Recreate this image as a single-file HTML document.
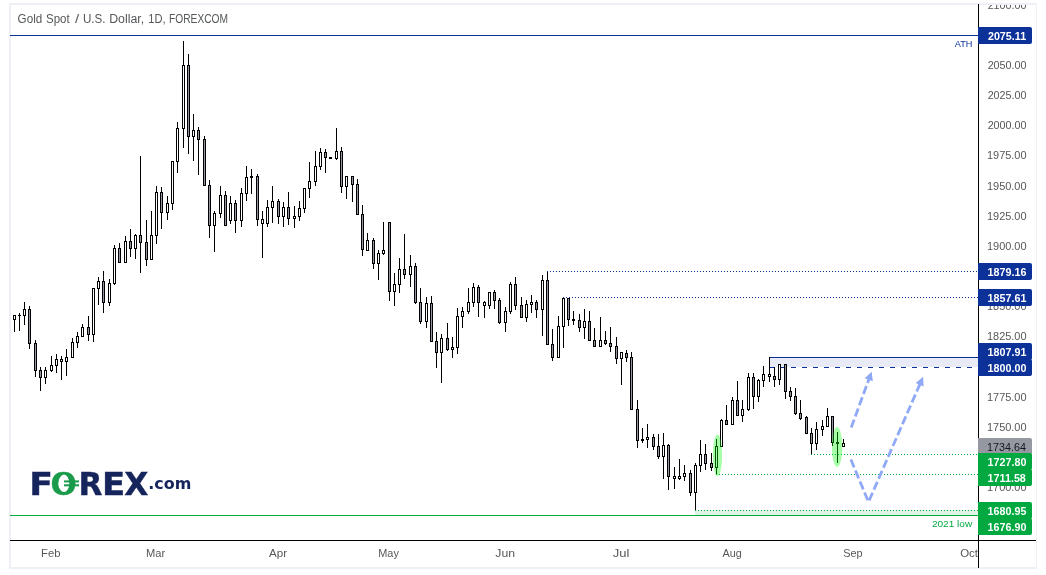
<!DOCTYPE html><html><head><meta charset="utf-8"><title>Gold Spot / U.S. Dollar</title>
<style>html,body{margin:0;padding:0;background:#fff;}body{width:1046px;height:575px;overflow:hidden;}svg{display:block;}text{font-family:"Liberation Sans",sans-serif;}</style></head><body>
<svg width="1046" height="575" viewBox="0 0 1046 575">
<rect width="1046" height="575" fill="#fff"/>
<rect x="10" y="4" width="1026" height="564" fill="#fff" stroke="#eef0f5" stroke-width="2"/>
<g shape-rendering="crispEdges">
<rect x="10" y="35" width="968" height="1" fill="#0c3199"/>
<line x1="547" y1="271.5" x2="978" y2="271.5" stroke="#0c3199" stroke-width="1" stroke-dasharray="1 2" stroke-dashoffset="0"/>
<line x1="563" y1="297.5" x2="978" y2="297.5" stroke="#0c3199" stroke-width="1" stroke-dasharray="1 2" stroke-dashoffset="0"/>
<rect x="770" y="358" width="208" height="9" fill="#e8eaf6"/>
<rect x="769" y="357" width="209" height="1" fill="#0c3199"/>
<rect x="769" y="357" width="1" height="11" fill="#0c3199"/>
<line x1="769" y1="367.5" x2="978" y2="367.5" stroke="#0c3199" stroke-width="1" stroke-dasharray="5 6" stroke-dashoffset="-0"/>
<rect x="695" y="510" width="283" height="5" fill="#dff3e6"/>
<rect x="10" y="515" width="968" height="1" fill="#02a940"/>
<line x1="811" y1="454.5" x2="978" y2="454.5" stroke="#02a940" stroke-width="1" stroke-dasharray="1 2" stroke-dashoffset="0"/>
<line x1="716" y1="474.5" x2="978" y2="474.5" stroke="#02a940" stroke-width="1" stroke-dasharray="1 2" stroke-dashoffset="0"/>
<line x1="695" y1="510.5" x2="978" y2="510.5" stroke="#02a940" stroke-width="1" stroke-dasharray="1 2" stroke-dashoffset="0"/>
</g>
<g shape-rendering="crispEdges">
<rect x="14" y="315" width="1" height="17" fill="#000"/>
<rect x="13" y="315" width="3" height="5" fill="#000"/>
<rect x="14" y="316" width="1" height="3" fill="#fff"/>
<rect x="19" y="313" width="1" height="18" fill="#000"/>
<rect x="18" y="315" width="3" height="1" fill="#000"/>
<rect x="24" y="302" width="1" height="23" fill="#000"/>
<rect x="23" y="309" width="3" height="7" fill="#000"/>
<rect x="24" y="310" width="1" height="5" fill="#fff"/>
<rect x="29" y="306" width="1" height="43" fill="#000"/>
<rect x="28" y="309" width="3" height="35" fill="#000"/>
<rect x="29" y="310" width="1" height="33" fill="#9497a1"/>
<rect x="35" y="340" width="1" height="37" fill="#000"/>
<rect x="34" y="343" width="3" height="28" fill="#000"/>
<rect x="35" y="344" width="1" height="26" fill="#9497a1"/>
<rect x="40" y="367" width="1" height="24" fill="#000"/>
<rect x="39" y="370" width="3" height="8" fill="#000"/>
<rect x="40" y="371" width="1" height="6" fill="#9497a1"/>
<rect x="45" y="367" width="1" height="17" fill="#000"/>
<rect x="44" y="370" width="3" height="8" fill="#000"/>
<rect x="45" y="371" width="1" height="6" fill="#fff"/>
<rect x="51" y="356" width="1" height="16" fill="#000"/>
<rect x="50" y="365" width="3" height="6" fill="#000"/>
<rect x="51" y="366" width="1" height="4" fill="#fff"/>
<rect x="56" y="354" width="1" height="19" fill="#000"/>
<rect x="55" y="359" width="3" height="7" fill="#000"/>
<rect x="56" y="360" width="1" height="5" fill="#fff"/>
<rect x="61" y="356" width="1" height="24" fill="#000"/>
<rect x="60" y="359" width="3" height="3" fill="#000"/>
<rect x="61" y="360" width="1" height="1" fill="#fff"/>
<rect x="66" y="349" width="1" height="27" fill="#000"/>
<rect x="65" y="357" width="3" height="5" fill="#000"/>
<rect x="66" y="358" width="1" height="3" fill="#fff"/>
<rect x="72" y="338" width="1" height="20" fill="#000"/>
<rect x="71" y="342" width="3" height="16" fill="#000"/>
<rect x="72" y="343" width="1" height="14" fill="#fff"/>
<rect x="77" y="332" width="1" height="16" fill="#000"/>
<rect x="76" y="336" width="3" height="7" fill="#000"/>
<rect x="77" y="337" width="1" height="5" fill="#fff"/>
<rect x="82" y="324" width="1" height="13" fill="#000"/>
<rect x="81" y="327" width="3" height="10" fill="#000"/>
<rect x="82" y="328" width="1" height="8" fill="#fff"/>
<rect x="88" y="316" width="1" height="25" fill="#000"/>
<rect x="87" y="327" width="3" height="8" fill="#000"/>
<rect x="88" y="328" width="1" height="6" fill="#9497a1"/>
<rect x="93" y="288" width="1" height="54" fill="#000"/>
<rect x="92" y="288" width="3" height="47" fill="#000"/>
<rect x="93" y="289" width="1" height="45" fill="#fff"/>
<rect x="98" y="277" width="1" height="28" fill="#000"/>
<rect x="97" y="281" width="3" height="8" fill="#000"/>
<rect x="98" y="282" width="1" height="6" fill="#fff"/>
<rect x="103" y="271" width="1" height="42" fill="#000"/>
<rect x="102" y="281" width="3" height="22" fill="#000"/>
<rect x="103" y="282" width="1" height="20" fill="#9497a1"/>
<rect x="109" y="279" width="1" height="27" fill="#000"/>
<rect x="108" y="283" width="3" height="20" fill="#000"/>
<rect x="109" y="284" width="1" height="18" fill="#fff"/>
<rect x="114" y="245" width="1" height="40" fill="#000"/>
<rect x="113" y="248" width="3" height="36" fill="#000"/>
<rect x="114" y="249" width="1" height="34" fill="#fff"/>
<rect x="119" y="243" width="1" height="20" fill="#000"/>
<rect x="118" y="248" width="3" height="15" fill="#000"/>
<rect x="119" y="249" width="1" height="13" fill="#9497a1"/>
<rect x="125" y="236" width="1" height="27" fill="#000"/>
<rect x="124" y="241" width="3" height="22" fill="#000"/>
<rect x="125" y="242" width="1" height="20" fill="#fff"/>
<rect x="130" y="229" width="1" height="28" fill="#000"/>
<rect x="129" y="241" width="3" height="8" fill="#000"/>
<rect x="130" y="242" width="1" height="6" fill="#9497a1"/>
<rect x="135" y="234" width="1" height="25" fill="#000"/>
<rect x="134" y="235" width="3" height="14" fill="#000"/>
<rect x="135" y="236" width="1" height="12" fill="#fff"/>
<rect x="140" y="156" width="1" height="117" fill="#000"/>
<rect x="139" y="235" width="3" height="8" fill="#000"/>
<rect x="140" y="236" width="1" height="6" fill="#9497a1"/>
<rect x="146" y="220" width="1" height="46" fill="#000"/>
<rect x="145" y="242" width="3" height="18" fill="#000"/>
<rect x="146" y="243" width="1" height="16" fill="#9497a1"/>
<rect x="151" y="211" width="1" height="49" fill="#000"/>
<rect x="150" y="235" width="3" height="25" fill="#000"/>
<rect x="151" y="236" width="1" height="23" fill="#fff"/>
<rect x="156" y="186" width="1" height="58" fill="#000"/>
<rect x="155" y="192" width="3" height="44" fill="#000"/>
<rect x="156" y="193" width="1" height="42" fill="#fff"/>
<rect x="161" y="187" width="1" height="42" fill="#000"/>
<rect x="160" y="192" width="3" height="21" fill="#000"/>
<rect x="161" y="193" width="1" height="19" fill="#9497a1"/>
<rect x="167" y="196" width="1" height="24" fill="#000"/>
<rect x="166" y="203" width="3" height="10" fill="#000"/>
<rect x="167" y="204" width="1" height="8" fill="#fff"/>
<rect x="172" y="161" width="1" height="49" fill="#000"/>
<rect x="171" y="161" width="3" height="43" fill="#000"/>
<rect x="172" y="162" width="1" height="41" fill="#fff"/>
<rect x="177" y="122" width="1" height="51" fill="#000"/>
<rect x="176" y="128" width="3" height="34" fill="#000"/>
<rect x="177" y="129" width="1" height="32" fill="#fff"/>
<rect x="183" y="41" width="1" height="107" fill="#000"/>
<rect x="182" y="65" width="3" height="64" fill="#000"/>
<rect x="183" y="66" width="1" height="62" fill="#fff"/>
<rect x="188" y="54" width="1" height="100" fill="#000"/>
<rect x="187" y="65" width="3" height="72" fill="#000"/>
<rect x="188" y="66" width="1" height="70" fill="#9497a1"/>
<rect x="193" y="114" width="1" height="47" fill="#000"/>
<rect x="192" y="130" width="3" height="7" fill="#000"/>
<rect x="193" y="131" width="1" height="5" fill="#fff"/>
<rect x="198" y="127" width="1" height="48" fill="#000"/>
<rect x="197" y="130" width="3" height="10" fill="#000"/>
<rect x="198" y="131" width="1" height="8" fill="#9497a1"/>
<rect x="204" y="136" width="1" height="50" fill="#000"/>
<rect x="203" y="139" width="3" height="47" fill="#000"/>
<rect x="204" y="140" width="1" height="45" fill="#9497a1"/>
<rect x="209" y="180" width="1" height="58" fill="#000"/>
<rect x="208" y="185" width="3" height="41" fill="#000"/>
<rect x="209" y="186" width="1" height="39" fill="#9497a1"/>
<rect x="214" y="211" width="1" height="41" fill="#000"/>
<rect x="213" y="213" width="3" height="13" fill="#000"/>
<rect x="214" y="214" width="1" height="11" fill="#fff"/>
<rect x="220" y="186" width="1" height="32" fill="#000"/>
<rect x="219" y="195" width="3" height="19" fill="#000"/>
<rect x="220" y="196" width="1" height="17" fill="#fff"/>
<rect x="225" y="191" width="1" height="35" fill="#000"/>
<rect x="224" y="195" width="3" height="31" fill="#000"/>
<rect x="225" y="196" width="1" height="29" fill="#9497a1"/>
<rect x="230" y="196" width="1" height="28" fill="#000"/>
<rect x="229" y="203" width="3" height="18" fill="#000"/>
<rect x="230" y="204" width="1" height="16" fill="#fff"/>
<rect x="235" y="200" width="1" height="33" fill="#000"/>
<rect x="234" y="203" width="3" height="18" fill="#000"/>
<rect x="235" y="204" width="1" height="16" fill="#9497a1"/>
<rect x="241" y="188" width="1" height="39" fill="#000"/>
<rect x="240" y="193" width="3" height="28" fill="#000"/>
<rect x="241" y="194" width="1" height="26" fill="#fff"/>
<rect x="246" y="166" width="1" height="35" fill="#000"/>
<rect x="245" y="177" width="3" height="17" fill="#000"/>
<rect x="246" y="178" width="1" height="15" fill="#fff"/>
<rect x="251" y="169" width="1" height="25" fill="#000"/>
<rect x="250" y="176" width="3" height="2" fill="#000"/>
<rect x="257" y="174" width="1" height="52" fill="#000"/>
<rect x="256" y="176" width="3" height="44" fill="#000"/>
<rect x="257" y="177" width="1" height="42" fill="#9497a1"/>
<rect x="262" y="211" width="1" height="47" fill="#000"/>
<rect x="261" y="219" width="3" height="5" fill="#000"/>
<rect x="262" y="220" width="1" height="3" fill="#fff"/>
<rect x="267" y="200" width="1" height="27" fill="#000"/>
<rect x="266" y="207" width="3" height="17" fill="#000"/>
<rect x="267" y="208" width="1" height="15" fill="#fff"/>
<rect x="272" y="186" width="1" height="37" fill="#000"/>
<rect x="271" y="201" width="3" height="7" fill="#000"/>
<rect x="272" y="202" width="1" height="5" fill="#fff"/>
<rect x="278" y="199" width="1" height="25" fill="#000"/>
<rect x="277" y="201" width="3" height="16" fill="#000"/>
<rect x="278" y="202" width="1" height="14" fill="#9497a1"/>
<rect x="283" y="202" width="1" height="25" fill="#000"/>
<rect x="282" y="207" width="3" height="10" fill="#000"/>
<rect x="283" y="208" width="1" height="8" fill="#fff"/>
<rect x="288" y="192" width="1" height="33" fill="#000"/>
<rect x="287" y="207" width="3" height="12" fill="#000"/>
<rect x="288" y="208" width="1" height="10" fill="#9497a1"/>
<rect x="294" y="206" width="1" height="22" fill="#000"/>
<rect x="293" y="216" width="3" height="3" fill="#000"/>
<rect x="294" y="217" width="1" height="1" fill="#fff"/>
<rect x="299" y="201" width="1" height="20" fill="#000"/>
<rect x="298" y="208" width="3" height="9" fill="#000"/>
<rect x="299" y="209" width="1" height="7" fill="#fff"/>
<rect x="304" y="188" width="1" height="25" fill="#000"/>
<rect x="303" y="188" width="3" height="21" fill="#000"/>
<rect x="304" y="189" width="1" height="19" fill="#fff"/>
<rect x="309" y="162" width="1" height="36" fill="#000"/>
<rect x="308" y="181" width="3" height="8" fill="#000"/>
<rect x="309" y="182" width="1" height="6" fill="#fff"/>
<rect x="315" y="151" width="1" height="35" fill="#000"/>
<rect x="314" y="166" width="3" height="16" fill="#000"/>
<rect x="315" y="167" width="1" height="14" fill="#fff"/>
<rect x="320" y="148" width="1" height="22" fill="#000"/>
<rect x="319" y="152" width="3" height="15" fill="#000"/>
<rect x="320" y="153" width="1" height="13" fill="#fff"/>
<rect x="325" y="149" width="1" height="24" fill="#000"/>
<rect x="324" y="152" width="3" height="6" fill="#000"/>
<rect x="325" y="153" width="1" height="4" fill="#9497a1"/>
<rect x="329" y="157" width="3" height="2" fill="#000"/>
<rect x="336" y="128" width="1" height="32" fill="#000"/>
<rect x="335" y="151" width="3" height="8" fill="#000"/>
<rect x="336" y="152" width="1" height="6" fill="#fff"/>
<rect x="341" y="147" width="1" height="46" fill="#000"/>
<rect x="340" y="151" width="3" height="36" fill="#000"/>
<rect x="341" y="152" width="1" height="34" fill="#9497a1"/>
<rect x="346" y="176" width="1" height="23" fill="#000"/>
<rect x="345" y="176" width="3" height="11" fill="#000"/>
<rect x="346" y="177" width="1" height="9" fill="#fff"/>
<rect x="352" y="176" width="1" height="26" fill="#000"/>
<rect x="351" y="176" width="3" height="9" fill="#000"/>
<rect x="352" y="177" width="1" height="7" fill="#9497a1"/>
<rect x="357" y="179" width="1" height="36" fill="#000"/>
<rect x="356" y="184" width="3" height="31" fill="#000"/>
<rect x="357" y="185" width="1" height="29" fill="#9497a1"/>
<rect x="362" y="205" width="1" height="51" fill="#000"/>
<rect x="361" y="214" width="3" height="36" fill="#000"/>
<rect x="362" y="215" width="1" height="34" fill="#9497a1"/>
<rect x="367" y="233" width="1" height="18" fill="#000"/>
<rect x="366" y="240" width="3" height="11" fill="#000"/>
<rect x="367" y="241" width="1" height="9" fill="#fff"/>
<rect x="373" y="238" width="1" height="31" fill="#000"/>
<rect x="372" y="240" width="3" height="24" fill="#000"/>
<rect x="373" y="241" width="1" height="22" fill="#9497a1"/>
<rect x="378" y="250" width="1" height="30" fill="#000"/>
<rect x="377" y="253" width="3" height="11" fill="#000"/>
<rect x="378" y="254" width="1" height="9" fill="#fff"/>
<rect x="383" y="222" width="1" height="33" fill="#000"/>
<rect x="382" y="250" width="3" height="4" fill="#000"/>
<rect x="383" y="251" width="1" height="2" fill="#fff"/>
<rect x="389" y="222" width="1" height="79" fill="#000"/>
<rect x="388" y="222" width="3" height="70" fill="#000"/>
<rect x="389" y="223" width="1" height="68" fill="#9497a1"/>
<rect x="394" y="273" width="1" height="33" fill="#000"/>
<rect x="393" y="284" width="3" height="8" fill="#000"/>
<rect x="394" y="285" width="1" height="6" fill="#fff"/>
<rect x="399" y="258" width="1" height="35" fill="#000"/>
<rect x="398" y="269" width="3" height="16" fill="#000"/>
<rect x="399" y="270" width="1" height="14" fill="#fff"/>
<rect x="404" y="234" width="1" height="45" fill="#000"/>
<rect x="403" y="269" width="3" height="6" fill="#000"/>
<rect x="404" y="270" width="1" height="4" fill="#9497a1"/>
<rect x="410" y="255" width="1" height="32" fill="#000"/>
<rect x="409" y="266" width="3" height="9" fill="#000"/>
<rect x="410" y="267" width="1" height="7" fill="#fff"/>
<rect x="415" y="263" width="1" height="41" fill="#000"/>
<rect x="414" y="266" width="3" height="37" fill="#000"/>
<rect x="415" y="267" width="1" height="35" fill="#9497a1"/>
<rect x="420" y="288" width="1" height="36" fill="#000"/>
<rect x="419" y="302" width="3" height="20" fill="#000"/>
<rect x="420" y="303" width="1" height="18" fill="#9497a1"/>
<rect x="426" y="297" width="1" height="31" fill="#000"/>
<rect x="425" y="303" width="3" height="19" fill="#000"/>
<rect x="426" y="304" width="1" height="17" fill="#fff"/>
<rect x="431" y="296" width="1" height="46" fill="#000"/>
<rect x="430" y="303" width="3" height="39" fill="#000"/>
<rect x="431" y="304" width="1" height="37" fill="#9497a1"/>
<rect x="436" y="332" width="1" height="36" fill="#000"/>
<rect x="435" y="341" width="3" height="12" fill="#000"/>
<rect x="436" y="342" width="1" height="10" fill="#9497a1"/>
<rect x="441" y="334" width="1" height="49" fill="#000"/>
<rect x="440" y="338" width="3" height="15" fill="#000"/>
<rect x="441" y="339" width="1" height="13" fill="#fff"/>
<rect x="447" y="323" width="1" height="28" fill="#000"/>
<rect x="446" y="338" width="3" height="12" fill="#000"/>
<rect x="447" y="339" width="1" height="10" fill="#9497a1"/>
<rect x="452" y="337" width="1" height="21" fill="#000"/>
<rect x="451" y="347" width="3" height="3" fill="#000"/>
<rect x="452" y="348" width="1" height="1" fill="#fff"/>
<rect x="457" y="308" width="1" height="46" fill="#000"/>
<rect x="456" y="316" width="3" height="32" fill="#000"/>
<rect x="457" y="317" width="1" height="30" fill="#fff"/>
<rect x="462" y="307" width="1" height="21" fill="#000"/>
<rect x="461" y="311" width="3" height="6" fill="#000"/>
<rect x="462" y="312" width="1" height="4" fill="#fff"/>
<rect x="468" y="288" width="1" height="26" fill="#000"/>
<rect x="467" y="302" width="3" height="10" fill="#000"/>
<rect x="468" y="303" width="1" height="8" fill="#fff"/>
<rect x="473" y="283" width="1" height="24" fill="#000"/>
<rect x="472" y="287" width="3" height="16" fill="#000"/>
<rect x="473" y="288" width="1" height="14" fill="#fff"/>
<rect x="478" y="285" width="1" height="32" fill="#000"/>
<rect x="477" y="287" width="3" height="16" fill="#000"/>
<rect x="478" y="288" width="1" height="14" fill="#9497a1"/>
<rect x="484" y="301" width="1" height="17" fill="#000"/>
<rect x="483" y="302" width="3" height="4" fill="#000"/>
<rect x="484" y="303" width="1" height="2" fill="#fff"/>
<rect x="489" y="292" width="1" height="17" fill="#000"/>
<rect x="488" y="292" width="3" height="14" fill="#000"/>
<rect x="489" y="293" width="1" height="12" fill="#fff"/>
<rect x="494" y="290" width="1" height="19" fill="#000"/>
<rect x="493" y="292" width="3" height="9" fill="#000"/>
<rect x="494" y="293" width="1" height="7" fill="#9497a1"/>
<rect x="499" y="298" width="1" height="26" fill="#000"/>
<rect x="498" y="300" width="3" height="23" fill="#000"/>
<rect x="499" y="301" width="1" height="21" fill="#9497a1"/>
<rect x="505" y="307" width="1" height="25" fill="#000"/>
<rect x="504" y="311" width="3" height="12" fill="#000"/>
<rect x="505" y="312" width="1" height="10" fill="#fff"/>
<rect x="510" y="282" width="1" height="32" fill="#000"/>
<rect x="509" y="284" width="3" height="28" fill="#000"/>
<rect x="510" y="285" width="1" height="26" fill="#fff"/>
<rect x="515" y="277" width="1" height="33" fill="#000"/>
<rect x="514" y="284" width="3" height="22" fill="#000"/>
<rect x="515" y="285" width="1" height="20" fill="#9497a1"/>
<rect x="521" y="297" width="1" height="21" fill="#000"/>
<rect x="520" y="305" width="3" height="13" fill="#000"/>
<rect x="521" y="306" width="1" height="11" fill="#9497a1"/>
<rect x="526" y="300" width="1" height="22" fill="#000"/>
<rect x="525" y="304" width="3" height="14" fill="#000"/>
<rect x="526" y="305" width="1" height="12" fill="#fff"/>
<rect x="531" y="295" width="1" height="18" fill="#000"/>
<rect x="530" y="302" width="3" height="3" fill="#000"/>
<rect x="531" y="303" width="1" height="1" fill="#fff"/>
<rect x="536" y="300" width="1" height="18" fill="#000"/>
<rect x="535" y="302" width="3" height="8" fill="#000"/>
<rect x="536" y="303" width="1" height="6" fill="#9497a1"/>
<rect x="542" y="275" width="1" height="61" fill="#000"/>
<rect x="541" y="280" width="3" height="30" fill="#000"/>
<rect x="542" y="281" width="1" height="28" fill="#fff"/>
<rect x="547" y="272" width="1" height="73" fill="#000"/>
<rect x="546" y="280" width="3" height="65" fill="#000"/>
<rect x="547" y="281" width="1" height="63" fill="#9497a1"/>
<rect x="552" y="329" width="1" height="32" fill="#000"/>
<rect x="551" y="344" width="3" height="14" fill="#000"/>
<rect x="552" y="345" width="1" height="12" fill="#9497a1"/>
<rect x="558" y="316" width="1" height="42" fill="#000"/>
<rect x="557" y="326" width="3" height="32" fill="#000"/>
<rect x="558" y="327" width="1" height="30" fill="#fff"/>
<rect x="563" y="298" width="1" height="50" fill="#000"/>
<rect x="562" y="298" width="3" height="29" fill="#000"/>
<rect x="563" y="299" width="1" height="27" fill="#fff"/>
<rect x="568" y="298" width="1" height="28" fill="#000"/>
<rect x="567" y="298" width="3" height="22" fill="#000"/>
<rect x="568" y="299" width="1" height="20" fill="#9497a1"/>
<rect x="573" y="311" width="1" height="14" fill="#000"/>
<rect x="572" y="319" width="3" height="2" fill="#000"/>
<rect x="579" y="314" width="1" height="18" fill="#000"/>
<rect x="578" y="320" width="3" height="8" fill="#000"/>
<rect x="579" y="321" width="1" height="6" fill="#9497a1"/>
<rect x="584" y="309" width="1" height="30" fill="#000"/>
<rect x="583" y="321" width="3" height="7" fill="#000"/>
<rect x="584" y="322" width="1" height="5" fill="#fff"/>
<rect x="589" y="311" width="1" height="30" fill="#000"/>
<rect x="588" y="321" width="3" height="20" fill="#000"/>
<rect x="589" y="322" width="1" height="18" fill="#9497a1"/>
<rect x="594" y="328" width="1" height="19" fill="#000"/>
<rect x="593" y="340" width="3" height="7" fill="#000"/>
<rect x="594" y="341" width="1" height="5" fill="#9497a1"/>
<rect x="600" y="317" width="1" height="30" fill="#000"/>
<rect x="599" y="340" width="3" height="7" fill="#000"/>
<rect x="600" y="341" width="1" height="5" fill="#fff"/>
<rect x="605" y="331" width="1" height="14" fill="#000"/>
<rect x="604" y="340" width="3" height="4" fill="#000"/>
<rect x="605" y="341" width="1" height="2" fill="#9497a1"/>
<rect x="610" y="327" width="1" height="25" fill="#000"/>
<rect x="609" y="343" width="3" height="4" fill="#000"/>
<rect x="610" y="344" width="1" height="2" fill="#9497a1"/>
<rect x="616" y="337" width="1" height="27" fill="#000"/>
<rect x="615" y="346" width="3" height="13" fill="#000"/>
<rect x="616" y="347" width="1" height="11" fill="#9497a1"/>
<rect x="621" y="352" width="1" height="33" fill="#000"/>
<rect x="620" y="352" width="3" height="7" fill="#000"/>
<rect x="621" y="353" width="1" height="5" fill="#fff"/>
<rect x="626" y="350" width="1" height="12" fill="#000"/>
<rect x="625" y="353" width="3" height="5" fill="#000"/>
<rect x="626" y="354" width="1" height="3" fill="#9497a1"/>
<rect x="631" y="352" width="1" height="58" fill="#000"/>
<rect x="630" y="357" width="3" height="53" fill="#000"/>
<rect x="631" y="358" width="1" height="51" fill="#9497a1"/>
<rect x="637" y="400" width="1" height="48" fill="#000"/>
<rect x="636" y="409" width="3" height="32" fill="#000"/>
<rect x="637" y="410" width="1" height="30" fill="#9497a1"/>
<rect x="642" y="428" width="1" height="15" fill="#000"/>
<rect x="641" y="439" width="3" height="2" fill="#000"/>
<rect x="647" y="424" width="1" height="24" fill="#000"/>
<rect x="646" y="437" width="3" height="3" fill="#000"/>
<rect x="647" y="438" width="1" height="1" fill="#fff"/>
<rect x="653" y="434" width="1" height="16" fill="#000"/>
<rect x="652" y="437" width="3" height="10" fill="#000"/>
<rect x="653" y="438" width="1" height="8" fill="#9497a1"/>
<rect x="658" y="434" width="1" height="25" fill="#000"/>
<rect x="657" y="446" width="3" height="11" fill="#000"/>
<rect x="658" y="447" width="1" height="9" fill="#9497a1"/>
<rect x="663" y="433" width="1" height="46" fill="#000"/>
<rect x="662" y="445" width="3" height="12" fill="#000"/>
<rect x="663" y="446" width="1" height="10" fill="#fff"/>
<rect x="668" y="444" width="1" height="46" fill="#000"/>
<rect x="667" y="445" width="3" height="32" fill="#000"/>
<rect x="668" y="446" width="1" height="30" fill="#9497a1"/>
<rect x="674" y="467" width="1" height="22" fill="#000"/>
<rect x="673" y="476" width="3" height="3" fill="#000"/>
<rect x="674" y="477" width="1" height="1" fill="#fff"/>
<rect x="679" y="459" width="1" height="21" fill="#000"/>
<rect x="678" y="476" width="3" height="3" fill="#000"/>
<rect x="679" y="477" width="1" height="1" fill="#fff"/>
<rect x="684" y="465" width="1" height="16" fill="#000"/>
<rect x="683" y="473" width="3" height="4" fill="#000"/>
<rect x="684" y="474" width="1" height="2" fill="#fff"/>
<rect x="690" y="470" width="1" height="26" fill="#000"/>
<rect x="689" y="473" width="3" height="20" fill="#000"/>
<rect x="690" y="474" width="1" height="18" fill="#9497a1"/>
<rect x="695" y="463" width="1" height="47" fill="#000"/>
<rect x="694" y="465" width="3" height="28" fill="#000"/>
<rect x="695" y="466" width="1" height="26" fill="#fff"/>
<rect x="700" y="440" width="1" height="32" fill="#000"/>
<rect x="699" y="454" width="3" height="12" fill="#000"/>
<rect x="700" y="455" width="1" height="10" fill="#fff"/>
<rect x="705" y="444" width="1" height="26" fill="#000"/>
<rect x="704" y="454" width="3" height="10" fill="#000"/>
<rect x="705" y="455" width="1" height="8" fill="#9497a1"/>
<rect x="711" y="453" width="1" height="18" fill="#000"/>
<rect x="710" y="463" width="3" height="5" fill="#000"/>
<rect x="711" y="464" width="1" height="3" fill="#9497a1"/>
<rect x="716" y="439" width="1" height="35" fill="#000"/>
<rect x="715" y="446" width="3" height="22" fill="#000"/>
<rect x="716" y="447" width="1" height="20" fill="#fff"/>
<rect x="721" y="419" width="1" height="28" fill="#000"/>
<rect x="720" y="420" width="3" height="27" fill="#000"/>
<rect x="721" y="421" width="1" height="25" fill="#fff"/>
<rect x="726" y="405" width="1" height="20" fill="#000"/>
<rect x="725" y="420" width="3" height="5" fill="#000"/>
<rect x="726" y="421" width="1" height="3" fill="#9497a1"/>
<rect x="732" y="397" width="1" height="28" fill="#000"/>
<rect x="731" y="400" width="3" height="25" fill="#000"/>
<rect x="732" y="401" width="1" height="23" fill="#fff"/>
<rect x="737" y="381" width="1" height="35" fill="#000"/>
<rect x="736" y="400" width="3" height="16" fill="#000"/>
<rect x="737" y="401" width="1" height="14" fill="#9497a1"/>
<rect x="742" y="400" width="1" height="22" fill="#000"/>
<rect x="741" y="409" width="3" height="7" fill="#000"/>
<rect x="742" y="410" width="1" height="5" fill="#fff"/>
<rect x="748" y="373" width="1" height="38" fill="#000"/>
<rect x="747" y="377" width="3" height="33" fill="#000"/>
<rect x="748" y="378" width="1" height="31" fill="#fff"/>
<rect x="753" y="373" width="1" height="36" fill="#000"/>
<rect x="752" y="377" width="3" height="20" fill="#000"/>
<rect x="753" y="378" width="1" height="18" fill="#9497a1"/>
<rect x="758" y="379" width="1" height="23" fill="#000"/>
<rect x="757" y="380" width="3" height="17" fill="#000"/>
<rect x="758" y="381" width="1" height="15" fill="#fff"/>
<rect x="763" y="366" width="1" height="21" fill="#000"/>
<rect x="762" y="374" width="3" height="7" fill="#000"/>
<rect x="763" y="375" width="1" height="5" fill="#fff"/>
<rect x="769" y="357" width="1" height="25" fill="#000"/>
<rect x="768" y="374" width="3" height="3" fill="#000"/>
<rect x="769" y="375" width="1" height="1" fill="#fff"/>
<rect x="774" y="367" width="1" height="20" fill="#000"/>
<rect x="773" y="376" width="3" height="4" fill="#000"/>
<rect x="774" y="377" width="1" height="2" fill="#9497a1"/>
<rect x="779" y="364" width="1" height="21" fill="#000"/>
<rect x="778" y="364" width="3" height="16" fill="#000"/>
<rect x="779" y="365" width="1" height="14" fill="#fff"/>
<rect x="785" y="364" width="1" height="35" fill="#000"/>
<rect x="784" y="364" width="3" height="28" fill="#000"/>
<rect x="785" y="365" width="1" height="26" fill="#9497a1"/>
<rect x="790" y="387" width="1" height="14" fill="#000"/>
<rect x="789" y="391" width="3" height="6" fill="#000"/>
<rect x="790" y="392" width="1" height="4" fill="#9497a1"/>
<rect x="795" y="388" width="1" height="27" fill="#000"/>
<rect x="794" y="396" width="3" height="18" fill="#000"/>
<rect x="795" y="397" width="1" height="16" fill="#9497a1"/>
<rect x="800" y="400" width="1" height="20" fill="#000"/>
<rect x="799" y="413" width="3" height="6" fill="#000"/>
<rect x="800" y="414" width="1" height="4" fill="#9497a1"/>
<rect x="806" y="416" width="1" height="18" fill="#000"/>
<rect x="805" y="417" width="3" height="17" fill="#000"/>
<rect x="806" y="418" width="1" height="15" fill="#9497a1"/>
<rect x="811" y="428" width="1" height="26" fill="#000"/>
<rect x="810" y="433" width="3" height="11" fill="#000"/>
<rect x="811" y="434" width="1" height="9" fill="#9497a1"/>
<rect x="816" y="422" width="1" height="28" fill="#000"/>
<rect x="815" y="429" width="3" height="15" fill="#000"/>
<rect x="816" y="430" width="1" height="13" fill="#fff"/>
<rect x="822" y="420" width="1" height="16" fill="#000"/>
<rect x="821" y="426" width="3" height="4" fill="#000"/>
<rect x="822" y="427" width="1" height="2" fill="#fff"/>
<rect x="827" y="408" width="1" height="19" fill="#000"/>
<rect x="826" y="416" width="3" height="11" fill="#000"/>
<rect x="827" y="417" width="1" height="9" fill="#fff"/>
<rect x="832" y="416" width="1" height="30" fill="#000"/>
<rect x="831" y="416" width="3" height="27" fill="#000"/>
<rect x="832" y="417" width="1" height="25" fill="#9497a1"/>
<rect x="837" y="432" width="1" height="31" fill="#000"/>
<rect x="836" y="442" width="3" height="2" fill="#000"/>
<rect x="843" y="439" width="1" height="8" fill="#000"/>
<rect x="842" y="443" width="3" height="4" fill="#000"/>
<rect x="843" y="444" width="1" height="2" fill="#fff"/>
</g>
<ellipse cx="717.5" cy="455.2" rx="4.7" ry="20.8" fill="#00ff00" fill-opacity="0.35"/>
<ellipse cx="837.1" cy="447" rx="5.2" ry="19.9" fill="#00ff00" fill-opacity="0.35"/>
<path d="M851.2 427.6 L869.4 377.9" fill="none" stroke="#8fa9f7" stroke-width="2.8" stroke-dasharray="8.5 3.4" stroke-linejoin="miter"/><path d="M871.7 371.7 L872.8 381.3 L864.7 378.3 Z" fill="#8fa9f7"/>
<path d="M850.9 459.5 L868.5 502.0 L920.5 382.8" fill="none" stroke="#8fa9f7" stroke-width="2.8" stroke-dasharray="8.5 3.4" stroke-linejoin="miter"/><path d="M923.1 376.8 L923.6 386.4 L915.7 383.0 Z" fill="#8fa9f7"/>
<g shape-rendering="crispEdges">
<rect x="978" y="5" width="58" height="535" fill="#fff"/>
<rect x="978" y="541" width="58" height="26" fill="#fff"/>
</g>
<defs><clipPath id="xc"><rect x="11" y="541" width="967" height="26"/></clipPath><clipPath id="pc"><rect x="978" y="5" width="57" height="535"/></clipPath></defs>
<g clip-path="url(#xc)">
<text transform="translate(41.08 556.8) scale(1.0207 1)" font-size="11" fill="#555759">Feb</text>
<text transform="translate(146.09 556.8) scale(1.0098 1)" font-size="11" fill="#555759">Mar</text>
<text transform="translate(268.96 556.8) scale(1.0552 1)" font-size="11" fill="#555759">Apr</text>
<text transform="translate(378.25 556.8) scale(0.9937 1)" font-size="11" fill="#555759">May</text>
<text transform="translate(495.27 556.8) scale(1.1121 1)" font-size="11" fill="#555759">Jun</text>
<text transform="translate(612.84 556.8) scale(1.1826 1)" font-size="11" fill="#555759">Jul</text>
<text transform="translate(722.47 556.8) scale(0.9878 1)" font-size="11" fill="#555759">Aug</text>
<text transform="translate(843.13 556.8) scale(0.9906 1)" font-size="11" fill="#555759">Sep</text>
<text transform="translate(960.21 556.8) scale(1.0403 1)" font-size="11" fill="#555759">Oct</text>
</g>
<g clip-path="url(#pc)">
<text transform="translate(987.64 8.7) scale(0.9791 1)" font-size="11" fill="#555759">2100.00</text>
<text transform="translate(987.64 69.0) scale(0.9791 1)" font-size="11" fill="#555759">2050.00</text>
<text transform="translate(987.64 99.1) scale(0.9791 1)" font-size="11" fill="#555759">2025.00</text>
<text transform="translate(987.64 129.2) scale(0.9791 1)" font-size="11" fill="#555759">2000.00</text>
<text transform="translate(986.95 159.4) scale(0.9967 1)" font-size="11" fill="#555759">1975.00</text>
<text transform="translate(986.95 189.5) scale(0.9967 1)" font-size="11" fill="#555759">1950.00</text>
<text transform="translate(986.95 219.6) scale(0.9967 1)" font-size="11" fill="#555759">1925.00</text>
<text transform="translate(986.95 249.8) scale(0.9967 1)" font-size="11" fill="#555759">1900.00</text>
<text transform="translate(986.95 310.0) scale(0.9967 1)" font-size="11" fill="#555759">1850.00</text>
<text transform="translate(986.95 340.2) scale(0.9967 1)" font-size="11" fill="#555759">1825.00</text>
<text transform="translate(986.95 400.5) scale(0.9967 1)" font-size="11" fill="#555759">1775.00</text>
<text transform="translate(986.95 430.6) scale(0.9967 1)" font-size="11" fill="#555759">1750.00</text>
<text transform="translate(986.95 490.9) scale(0.9967 1)" font-size="11" fill="#555759">1700.00</text>
</g>
<g shape-rendering="crispEdges">
<rect x="978" y="4" width="1" height="564" fill="#000"/>
<rect x="10" y="540" width="1026" height="1" fill="#000"/>
</g>
<path d="M978 27 H1030 a2 2 0 0 1 2 2 V42 a2 2 0 0 1 -2 2 H978 Z" fill="#0c3199"/><text transform="translate(987.92 40.1) scale(0.9780 1)" font-size="11" font-weight="bold" fill="#fff">2075.11</text>
<path d="M978 263 H1030 a2 2 0 0 1 2 2 V278 a2 2 0 0 1 -2 2 H978 Z" fill="#0c3199"/><text transform="translate(987.62 276.1) scale(0.9780 1)" font-size="11" font-weight="bold" fill="#fff">1879.16</text>
<path d="M978 289 H1030 a2 2 0 0 1 2 2 V304 a2 2 0 0 1 -2 2 H978 Z" fill="#0c3199"/><text transform="translate(987.62 302.1) scale(0.9780 1)" font-size="11" font-weight="bold" fill="#fff">1857.61</text>
<path d="M978 343 H1030 a2 2 0 0 1 2 2 V358 a2 2 0 0 1 -2 2 H978 Z" fill="#0c3199"/><text transform="translate(987.62 356.1) scale(0.9780 1)" font-size="11" font-weight="bold" fill="#fff">1807.91</text>
<path d="M978 359 H1030 a2 2 0 0 1 2 2 V374 a2 2 0 0 1 -2 2 H978 Z" fill="#0c3199"/><text transform="translate(987.62 372.1) scale(0.9780 1)" font-size="11" font-weight="bold" fill="#fff">1800.00</text>
<path d="M978 438 H1030 a2 2 0 0 1 2 2 V453 a2 2 0 0 1 -2 2 H978 Z" fill="#9598a1"/><text transform="translate(987.07 451.1) scale(0.9780 1)" font-size="11" fill="#131722">1734.64</text>
<path d="M978 453 H1030 a2 2 0 0 1 2 2 V468 a2 2 0 0 1 -2 2 H978 Z" fill="#02a940"/><text transform="translate(987.62 466.1) scale(0.9780 1)" font-size="11" font-weight="bold" fill="#fff">1727.80</text>
<path d="M978 469 H1030 a2 2 0 0 1 2 2 V484 a2 2 0 0 1 -2 2 H978 Z" fill="#02a940"/><text transform="translate(987.62 482.1) scale(0.9780 1)" font-size="11" font-weight="bold" fill="#fff">1711.58</text>
<path d="M978 502 H1030 a2 2 0 0 1 2 2 V517 a2 2 0 0 1 -2 2 H978 Z" fill="#02a940"/><text transform="translate(987.62 515.1) scale(0.9780 1)" font-size="11" font-weight="bold" fill="#fff">1680.95</text>
<path d="M978 518 H1030 a2 2 0 0 1 2 2 V533 a2 2 0 0 1 -2 2 H978 Z" fill="#02a940"/><text transform="translate(987.62 531.1) scale(0.9780 1)" font-size="11" font-weight="bold" fill="#fff">1676.90</text>
<text transform="translate(954.85 47) scale(0.9643 1)" font-size="9.5" fill="#0c3199">ATH</text>
<text transform="translate(931.92 527.1) scale(1.0384 1)" font-size="9.7" fill="#02a940">2021 low</text>
<text transform="translate(17.57 22.5) scale(0.9724 1)" font-size="12" fill="#555759">Gold</text>
<text transform="translate(45.94 22.5) scale(0.9617 1)" font-size="12" fill="#555759">Spot</text>
<text transform="translate(75.01 22.5) scale(1.2421 1)" font-size="12" fill="#555759">/</text>
<text transform="translate(82.90 22.5) scale(0.9712 1)" font-size="12" fill="#555759">U.S.</text>
<text transform="translate(109.17 22.5) scale(1.0284 1)" font-size="12" fill="#555759">Dollar,</text>
<text transform="translate(148.27 22.5) scale(0.9283 1)" font-size="12" fill="#555759">1D,</text>
<text transform="translate(169.05 22.5) scale(0.8519 1)" font-size="12" fill="#555759">FOREXCOM</text>
<text transform="translate(29.21 495) scale(1.1024 1)" font-size="31.5" font-weight="bold" fill="#15245b" style="font-family:'DejaVu Sans',sans-serif" stroke="#15245b" stroke-width="0.4">F</text>
<text transform="translate(50.55 495) scale(0.9796 1)" font-size="31.5" font-weight="bold" fill="#1a9b4b" style="font-family:'DejaVu Sans',sans-serif" stroke="#1a9b4b" stroke-width="0.4">O</text>
<text transform="translate(78.45 495) scale(0.9862 1)" font-size="31.5" font-weight="bold" fill="#15245b" style="font-family:'DejaVu Sans',sans-serif" stroke="#15245b" stroke-width="0.4">R</text>
<text transform="translate(101.88 495) scale(1.0788 1)" font-size="31.5" font-weight="bold" fill="#15245b" style="font-family:'DejaVu Sans',sans-serif" stroke="#15245b" stroke-width="0.4">E</text>
<text transform="translate(124.25 495) scale(0.9944 1)" font-size="31.5" font-weight="bold" fill="#15245b" style="font-family:'DejaVu Sans',sans-serif" stroke="#15245b" stroke-width="0.4">X</text>
<text transform="translate(148.27 488.5) scale(0.9622 1)" font-size="16.6" font-weight="bold" fill="#15245b" style="font-family:'DejaVu Sans',sans-serif">.com</text>
<ellipse cx="63.95" cy="483.3" rx="5.3" ry="8.7" fill="#fff"/>
<rect x="64" y="480.4" width="15" height="2" fill="#1a9b4b"/><rect x="64" y="484.3" width="15" height="2" fill="#1a9b4b"/>
</svg></body></html>
